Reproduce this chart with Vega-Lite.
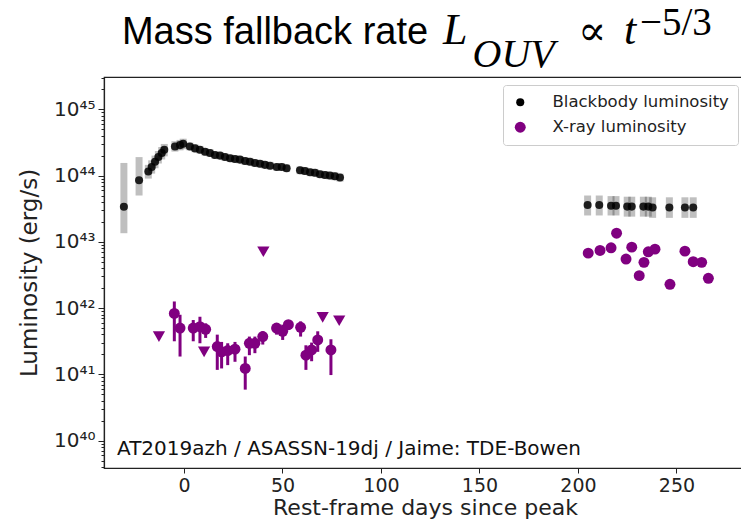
{
  "$schema": "https://vega.github.io/schema/vega-lite/v6.json",
  "autosize": {"type": "none"},
  "padding": {"left": 104, "top": 77, "right": 0, "bottom": 52},
  "width": 642,
  "height": 391,
  "background": "white",
  "datasets": {
    "bb": [
      {"day": -30.5, "L": 3.39e43, "lo": 1.35e43, "hi": 1.55e44},
      {"day": -22.8, "L": 8.51e43, "lo": 5.0e43, "hi": 1.9e44},
      {"day": -18.1, "L": 1.15e44, "lo": 0.9e44, "hi": 1.45e44},
      {"day": -16.4, "L": 1.35e44, "lo": 1.07e44, "hi": 1.7e44},
      {"day": -14.7, "L": 1.62e44, "lo": 1.29e44, "hi": 2.0e44},
      {"day": -13.0, "L": 1.91e44, "lo": 1.52e44, "hi": 2.35e44},
      {"day": -11.3, "L": 2.19e44, "lo": 1.75e44, "hi": 2.7e44},
      {"day": -10.0, "L": 2.45e44, "lo": 1.95e44, "hi": 3.0e44},
      {"day": -4.6, "L": 2.75e44, "lo": 2.3e44, "hi": 3.3e44},
      {"day": -2.0, "L": 2.88e44, "lo": 2.4e44, "hi": 3.45e44},
      {"day": -0.4, "L": 3.02e44, "lo": 2.5e44, "hi": 3.6e44},
      {"day": 3.0, "L": 2.75e44, "lo": 2.4e44, "hi": 3.15e44},
      {"day": 5.6, "L": 2.57e44, "lo": 2.25e44, "hi": 2.95e44},
      {"day": 8.1, "L": 2.45e44, "lo": 2.15e44, "hi": 2.8e44},
      {"day": 10.7, "L": 2.29e44, "lo": 2.0e44, "hi": 2.6e44},
      {"day": 13.2, "L": 2.19e44, "lo": 1.92e44, "hi": 2.5e44},
      {"day": 15.7, "L": 2.04e44, "lo": 1.79e44, "hi": 2.33e44},
      {"day": 18.3, "L": 2.0e44, "lo": 1.75e44, "hi": 2.28e44},
      {"day": 20.8, "L": 1.91e44, "lo": 1.67e44, "hi": 2.18e44},
      {"day": 23.4, "L": 1.82e44, "lo": 1.6e44, "hi": 2.08e44},
      {"day": 25.9, "L": 1.78e44, "lo": 1.56e44, "hi": 2.03e44},
      {"day": 28.4, "L": 1.74e44, "lo": 1.52e44, "hi": 1.98e44},
      {"day": 31.0, "L": 1.66e44, "lo": 1.45e44, "hi": 1.9e44},
      {"day": 33.5, "L": 1.62e44, "lo": 1.42e44, "hi": 1.85e44},
      {"day": 36.0, "L": 1.55e44, "lo": 1.36e44, "hi": 1.77e44},
      {"day": 38.6, "L": 1.51e44, "lo": 1.32e44, "hi": 1.72e44},
      {"day": 41.1, "L": 1.45e44, "lo": 1.27e44, "hi": 1.66e44},
      {"day": 43.7, "L": 1.41e44, "lo": 1.23e44, "hi": 1.61e44},
      {"day": 47.1, "L": 1.35e44, "lo": 1.18e44, "hi": 1.54e44},
      {"day": 49.6, "L": 1.35e44, "lo": 1.18e44, "hi": 1.54e44},
      {"day": 52.1, "L": 1.29e44, "lo": 1.13e44, "hi": 1.47e44},
      {"day": 58.9, "L": 1.2e44, "lo": 1.05e44, "hi": 1.37e44},
      {"day": 61.4, "L": 1.17e44, "lo": 1.02e44, "hi": 1.34e44},
      {"day": 64.0, "L": 1.12e44, "lo": 0.98e44, "hi": 1.28e44},
      {"day": 66.5, "L": 1.1e44, "lo": 0.96e44, "hi": 1.26e44},
      {"day": 69.0, "L": 1.05e44, "lo": 0.92e44, "hi": 1.2e44},
      {"day": 71.6, "L": 1.02e44, "lo": 0.89e44, "hi": 1.17e44},
      {"day": 74.1, "L": 1.0e44, "lo": 0.87e44, "hi": 1.14e44},
      {"day": 76.6, "L": 9.77e43, "lo": 8.5e43, "hi": 1.12e44},
      {"day": 79.2, "L": 9.33e43, "lo": 8.1e43, "hi": 1.07e44},
      {"day": 204.9, "L": 3.6e43, "lo": 2.5e43, "hi": 5.0e43},
      {"day": 210.8, "L": 3.6e43, "lo": 2.5e43, "hi": 5.0e43},
      {"day": 216.8, "L": 3.5e43, "lo": 2.5e43, "hi": 4.9e43},
      {"day": 219.3, "L": 3.5e43, "lo": 2.5e43, "hi": 4.9e43},
      {"day": 225.0, "L": 3.4e43, "lo": 2.4e43, "hi": 4.8e43},
      {"day": 227.3, "L": 3.4e43, "lo": 2.4e43, "hi": 4.8e43},
      {"day": 233.2, "L": 3.4e43, "lo": 2.4e43, "hi": 4.8e43},
      {"day": 235.7, "L": 3.4e43, "lo": 2.4e43, "hi": 4.8e43},
      {"day": 237.9, "L": 3.3e43, "lo": 2.3e43, "hi": 4.7e43},
      {"day": 246.4, "L": 3.3e43, "lo": 2.3e43, "hi": 4.7e43},
      {"day": 254.3, "L": 3.3e43, "lo": 2.3e43, "hi": 4.7e43},
      {"day": 258.5, "L": 3.3e43, "lo": 2.3e43, "hi": 4.7e43}
    ],
    "xray": [
      {"day": -4.9, "L": 8.32e41, "lo": 3.16e41, "hi": 1.26e42},
      {"day": -2.0, "L": 5.01e41, "lo": 1.86e41, "hi": 7.94e41},
      {"day": 4.7, "L": 5.01e41, "lo": 3.16e41, "hi": 6.61e41},
      {"day": 8.1, "L": 5.25e41, "lo": 2.95e41, "hi": 7.41e41},
      {"day": 11.0, "L": 4.79e41, "lo": 3.55e41, "hi": 5.89e41},
      {"day": 16.9, "L": 2.63e41, "lo": 1.17e41, "hi": 3.98e41},
      {"day": 19.1, "L": 2.19e41, "lo": 1.23e41, "hi": 3.09e41},
      {"day": 22.2, "L": 2.29e41, "lo": 1.38e41, "hi": 2.95e41},
      {"day": 25.9, "L": 2.4e41, "lo": 1.55e41, "hi": 3.09e41},
      {"day": 31.1, "L": 1.23e41, "lo": 5.89e40, "hi": 1.86e41},
      {"day": 33.2, "L": 2.95e41, "lo": 1.95e41, "hi": 3.72e41},
      {"day": 36.0, "L": 2.95e41, "lo": 2.09e41, "hi": 3.72e41},
      {"day": 40.0, "L": 3.72e41, "lo": 2.82e41, "hi": 4.47e41},
      {"day": 47.0, "L": 5.01e41, "lo": 3.98e41, "hi": 5.89e41},
      {"day": 50.1, "L": 4.47e41, "lo": 3.31e41, "hi": 5.62e41},
      {"day": 53.0, "L": 5.62e41, "lo": 4.79e41, "hi": 6.61e41},
      {"day": 59.2, "L": 5.13e41, "lo": 3.72e41, "hi": 6.31e41},
      {"day": 61.9, "L": 1.95e41, "lo": 1.17e41, "hi": 2.75e41},
      {"day": 64.8, "L": 2.34e41, "lo": 1.58e41, "hi": 3.02e41},
      {"day": 67.9, "L": 3.31e41, "lo": 2.19e41, "hi": 4.47e41},
      {"day": 74.6, "L": 2.34e41, "lo": 9.77e40, "hi": 3.39e41},
      {"day": 205.2, "L": 6.76e42, "lo": 6.3e42, "hi": 7.2e42},
      {"day": 211.2, "L": 7.41e42, "lo": 6.9e42, "hi": 7.9e42},
      {"day": 216.8, "L": 8.13e42, "lo": 7.6e42, "hi": 8.7e42},
      {"day": 219.6, "L": 1.35e43, "lo": 1.26e43, "hi": 1.44e43},
      {"day": 224.4, "L": 5.5e42, "lo": 5.1e42, "hi": 5.9e42},
      {"day": 227.3, "L": 8.32e42, "lo": 7.8e42, "hi": 8.9e42},
      {"day": 231.1, "L": 3.09e42, "lo": 2.9e42, "hi": 3.3e42},
      {"day": 233.5, "L": 4.9e42, "lo": 4.6e42, "hi": 5.2e42},
      {"day": 235.7, "L": 7.08e42, "lo": 6.6e42, "hi": 7.6e42},
      {"day": 239.1, "L": 7.76e42, "lo": 7.3e42, "hi": 8.3e42},
      {"day": 246.7, "L": 2.29e42, "lo": 2.15e42, "hi": 2.45e42},
      {"day": 254.3, "L": 7.24e42, "lo": 6.8e42, "hi": 7.7e42},
      {"day": 258.5, "L": 5.01e42, "lo": 4.7e42, "hi": 5.35e42},
      {"day": 262.8, "L": 4.9e42, "lo": 4.6e42, "hi": 5.2e42},
      {"day": 266.2, "L": 2.82e42, "lo": 2.65e42, "hi": 3.0e42}
    ],
    "xlim": [
      {"day": -12.7, "L": 3.72e41},
      {"day": 10.2, "L": 2.19e41},
      {"day": 40.3, "L": 7.08e42},
      {"day": 70.4, "L": 7.24e41},
      {"day": 78.8, "L": 6.46e41}
    ]
  },
  "layer": [
    {
      "data": {"name": "bb"},
      "mark": {"type": "rule", "color": "black", "opacity": 0.25, "strokeWidth": 7},
      "encoding": {
        "x": {"field": "day", "type": "quantitative", "scale": {"domain": [-40.6, 285.3], "nice": false, "zero": false}, "title": "Rest-frame days since peak", "axis": {"values": [0, 50, 100, 150, 200, 250]}},
        "y": {"field": "lo", "type": "quantitative", "scale": {"type": "log", "domain": [3.87e39, 3.07e45], "nice": false}, "title": "Luminosity (erg/s)",
          "axis": {
            "values": [4e39, 5e39, 6e39, 7e39, 8e39, 9e39, 1e40, 2e40, 3e40, 4e40, 5e40, 6e40, 7e40, 8e40, 9e40, 1e41, 2e41, 3e41, 4e41, 5e41, 6e41, 7e41, 8e41, 9e41, 1e42, 2e42, 3e42, 4e42, 5e42, 6e42, 7e42, 8e42, 9e42, 1e43, 2e43, 3e43, 4e43, 5e43, 6e43, 7e43, 8e43, 9e43, 1e44, 2e44, 3e44, 4e44, 5e44, 6e44, 7e44, 8e44, 9e44, 1e45, 2e45, 3e45],
            "labelExpr": "abs(log(datum.value)/LN10 - round(log(datum.value)/LN10)) < 0.01 ? '10' + ['⁴⁰','⁴¹','⁴²','⁴³','⁴⁴','⁴⁵'][round(log(datum.value)/LN10) - 40] : ''",
            "labelOverlap": false,
            "tickSize": {"condition": {"test": "abs(log(datum.value)/LN10 - round(log(datum.value)/LN10)) < 0.01", "value": 6}, "value": 3}
          }},
        "y2": {"field": "hi"}
      }
    },
    {
      "data": {"name": "bb"},
      "mark": {"type": "point", "filled": true, "shape": "circle", "opacity": 0.85},
      "encoding": {
        "x": {"field": "day", "type": "quantitative", "scale": {"domain": [-40.6, 285.3], "nice": false, "zero": false}, "title": "Rest-frame days since peak"},
        "y": {"field": "L", "type": "quantitative", "scale": {"type": "log", "domain": [3.87e39, 3.07e45], "nice": false}, "title": "Luminosity (erg/s)"},
        "color": {"datum": "Blackbody luminosity", "type": "nominal", "scale": {"domain": ["Blackbody luminosity", "X-ray luminosity"], "range": ["black", "#800080"]},
          "legend": {"title": null, "orient": "top-right", "offset": 8, "fillColor": "white", "strokeColor": "#cccccc", "cornerRadius": 3, "padding": 9, "labelFontSize": 16.5, "labelFont": "DejaVu Sans", "labelColor": "#222", "labelLimit": 300, "symbolType": "circle", "symbolOpacity": 1, "labelOffset": 24, "rowPadding": 8, "symbolStrokeWidth": 0}},
        "size": {"datum": "Blackbody luminosity", "type": "nominal", "scale": {"domain": ["Blackbody luminosity", "X-ray luminosity"], "range": [65, 120]},
          "legend": {"title": null, "orient": "top-right", "offset": 8, "fillColor": "white", "strokeColor": "#cccccc", "cornerRadius": 3, "padding": 9, "labelFontSize": 16.5, "labelFont": "DejaVu Sans", "labelColor": "#222", "labelLimit": 300, "symbolType": "circle", "symbolOpacity": 1, "labelOffset": 24, "rowPadding": 8, "symbolStrokeWidth": 0}}
      }
    },
    {
      "data": {"name": "xray"},
      "mark": {"type": "rule", "color": "#800080", "strokeWidth": 3},
      "encoding": {
        "x": {"field": "day", "type": "quantitative", "scale": {"domain": [-40.6, 285.3], "nice": false, "zero": false}, "title": "Rest-frame days since peak"},
        "y": {"field": "lo", "type": "quantitative", "scale": {"type": "log", "domain": [3.87e39, 3.07e45], "nice": false}, "title": "Luminosity (erg/s)"},
        "y2": {"field": "hi"}
      }
    },
    {
      "data": {"name": "xray"},
      "mark": {"type": "point", "filled": true, "shape": "circle", "opacity": 1},
      "encoding": {
        "x": {"field": "day", "type": "quantitative", "scale": {"domain": [-40.6, 285.3], "nice": false, "zero": false}, "title": "Rest-frame days since peak"},
        "y": {"field": "L", "type": "quantitative", "scale": {"type": "log", "domain": [3.87e39, 3.07e45], "nice": false}, "title": "Luminosity (erg/s)"},
        "color": {"datum": "X-ray luminosity", "type": "nominal"},
        "size": {"datum": "X-ray luminosity", "type": "nominal"}
      }
    },
    {
      "data": {"name": "xlim"},
      "mark": {"type": "point", "filled": true, "shape": "triangle-down", "opacity": 1, "size": 150, "color": "#800080"},
      "encoding": {
        "x": {"field": "day", "type": "quantitative", "scale": {"domain": [-40.6, 285.3], "nice": false, "zero": false}, "title": "Rest-frame days since peak"},
        "y": {"field": "L", "type": "quantitative", "scale": {"type": "log", "domain": [3.87e39, 3.07e45], "nice": false}, "title": "Luminosity (erg/s)"}
      }
    },
    {
      "data": {"values": [{"label": "AT2019azh / ASASSN-19dj / Jaime: TDE-Bowen"}]},
      "mark": {"type": "text", "align": "left", "baseline": "middle", "font": "DejaVu Sans", "fontSize": 20, "color": "#111"},
      "encoding": {
        "x": {"datum": -34, "type": "quantitative"},
        "y": {"datum": 7.6e39, "type": "quantitative"},
        "text": {"field": "label"}
      }
    },
    {
      "data": {"values": [{"t": "Mass fallback rate"}]},
      "mark": {"type": "text", "align": "left", "baseline": "alphabetic", "font": "Liberation Sans", "fontSize": 38, "color": "black"},
      "encoding": {
        "x": {"datum": -31.5, "type": "quantitative"},
        "y": {"datum": 9.66e45, "type": "quantitative"},
        "text": {"field": "t"}
      }
    },
    {
      "data": {"values": [{"t": "L"}]},
      "mark": {"type": "text", "align": "left", "baseline": "alphabetic", "font": "Liberation Serif", "fontStyle": "italic", "fontSize": 44, "color": "black"},
      "encoding": {
        "x": {"datum": 131.5, "type": "quantitative"},
        "y": {"datum": 9.66e45, "type": "quantitative"},
        "text": {"field": "t"}
      }
    },
    {
      "data": {"values": [{"t": "OUV"}]},
      "mark": {"type": "text", "align": "left", "baseline": "alphabetic", "font": "Liberation Serif", "fontStyle": "italic", "fontSize": 40, "color": "black"},
      "encoding": {
        "x": {"datum": 146.5, "type": "quantitative"},
        "y": {"datum": 4.35e45, "type": "quantitative"},
        "text": {"field": "t"}
      }
    },
    {
      "data": {"values": [{"t": "∝"}]},
      "mark": {"type": "text", "align": "left", "baseline": "alphabetic", "font": "DejaVu Serif", "fontSize": 42, "color": "black"},
      "encoding": {
        "x": {"datum": 200.0, "type": "quantitative"},
        "y": {"datum": 9.33e45, "type": "quantitative"},
        "text": {"field": "t"}
      }
    },
    {
      "data": {"values": [{"t": "t"}]},
      "mark": {"type": "text", "align": "left", "baseline": "alphabetic", "font": "Liberation Serif", "fontStyle": "italic", "fontSize": 44, "color": "black"},
      "encoding": {
        "x": {"datum": 223.4, "type": "quantitative"},
        "y": {"datum": 9.66e45, "type": "quantitative"},
        "text": {"field": "t"}
      }
    },
    {
      "data": {"values": [{"t": "−5/3"}]},
      "mark": {"type": "text", "align": "left", "baseline": "alphabetic", "font": "Liberation Serif", "fontSize": 39, "color": "black"},
      "encoding": {
        "x": {"datum": 231.5, "type": "quantitative"},
        "y": {"datum": 1.3e46, "type": "quantitative"},
        "text": {"field": "t"}
      }
    }
  ],
  "config": {
    "font": "DejaVu Sans",
    "view": {"stroke": "#222", "strokeWidth": 1.2},
    "axis": {"grid": false, "domainColor": "#222", "domainWidth": 1.2, "tickColor": "#222", "tickWidth": 1, "labelColor": "#222", "titleColor": "#222", "labelFont": "DejaVu Sans", "titleFont": "DejaVu Sans", "titleFontWeight": "normal", "labelFontSize": 20, "titleFontSize": 23},
    "axisX": {"tickSize": 5, "labelPadding": 3, "labelFontSize": 19, "titlePadding": 2, "titleFontSize": 22},
    "axisY": {"labelPadding": 3, "titlePadding": 12}
  }
}
